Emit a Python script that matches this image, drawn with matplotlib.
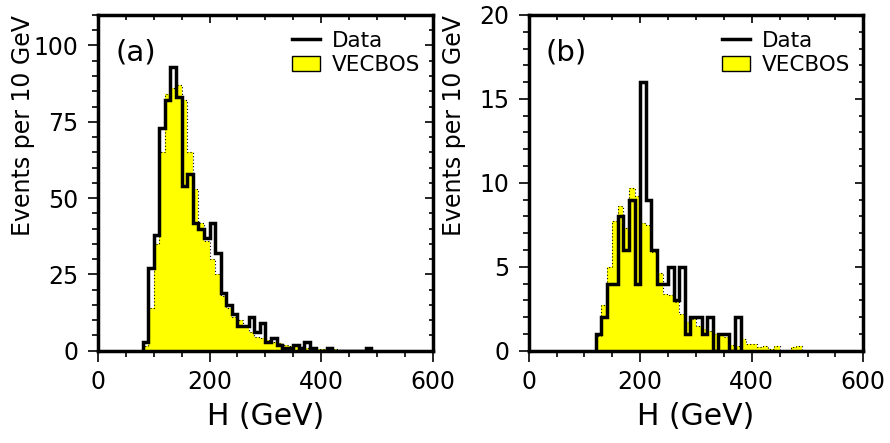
import numpy as np
import matplotlib
matplotlib.use("Agg")
import matplotlib.pyplot as plt
from matplotlib.lines import Line2D
from matplotlib.patches import Patch
from matplotlib.ticker import MultipleLocator

# events per 10 GeV bin, first bin starts at first_*
first_data_a = 80
data_a = [3, 27, 38, 73, 82, 93, 83, 54, 58, 42, 40, 37, 42, 32, 19, 15, 12, 8, 8, 11,
          6, 9, 3, 4, 2, 1, 1, 2, 1, 3, 1, 0, 0, 1, 0, 0, 0, 0, 0, 0, 1]
first_mc_a = 80
mc_a = [1.5, 14, 35, 65, 84, 86, 87, 82, 65, 53, 42, 36, 30, 25, 18, 14, 11, 10, 8, 6,
        4.5, 4, 3.5, 3, 2.5, 2, 1.6, 1.4, 1.1, 1.0, 0.8, 0.6, 0.5, 0.45, 0.4, 0.3, 0.3,
        0.25, 0.2, 0.2, 0.2, 0.1]

first_data_b = 120
data_b = [1, 2, 4, 4, 8, 6, 9, 4, 16, 9, 6, 4, 4, 5, 3, 5, 1, 2, 2, 1, 2, 0, 1, 1, 0, 2]
first_mc_b = 120
mc_b = [0.9, 2.7, 5.0, 7.7, 8.6, 7.3, 9.7, 9.2, 7.6, 7.5, 5.9, 4.6, 3.4, 3.3, 2.9, 2.2,
        1.7, 1.9, 1.5, 1.3, 1.2, 1.0, 0.95, 0.8, 0.35, 0.25, 0.68, 0.4, 0.4, 0.2, 0.3,
        0.1, 0.3, 0.05, 0.05, 0.2, 0.3, 0.05]

xlabel = "H (GeV)"
ylabel = "Events per 10 GeV"
legend_labels = ["Data", "VECBOS"]


def edges(first, vals):
    return first + 10 * np.arange(len(vals) + 1)


def panel(ax, first_mc, mc, first_d, d, ymax, ymaj, ymin_step, tag):
    ax.stairs(mc, edges(first_mc, mc), fill=True, facecolor="#ffff00", edgecolor="none")
    ax.stairs(mc, edges(first_mc, mc), color="k", lw=0.8, ls=(0, (1, 2)))
    ax.stairs(d, edges(first_d, d), color="k", lw=2.5, baseline=0)

    ax.set_xlim(0, 600)
    ax.set_ylim(0, ymax)
    for s in ax.spines.values():
        s.set_linewidth(2.5)

    ax.xaxis.set_major_locator(MultipleLocator(200))
    ax.xaxis.set_minor_locator(MultipleLocator(50))
    ax.yaxis.set_major_locator(MultipleLocator(ymaj))
    ax.yaxis.set_minor_locator(MultipleLocator(ymin_step))
    ax.tick_params(axis="x", which="major", direction="out", length=8, width=1.2,
                   labelsize=17, pad=6)
    ax.tick_params(axis="x", which="minor", direction="out", length=4.5, width=1.2)
    ax.tick_params(axis="y", which="major", direction="out", length=7, width=1.2,
                   labelsize=17, pad=7)
    ax.tick_params(axis="y", which="minor", direction="out", length=4, width=1.2)

    # inward ticks on top and right
    top = ax.secondary_xaxis("top")
    top.xaxis.set_major_locator(MultipleLocator(200))
    top.xaxis.set_minor_locator(MultipleLocator(50))
    top.tick_params(which="major", direction="in", length=6, width=1.2, labeltop=False)
    top.tick_params(which="minor", direction="in", length=3.5, width=1.2)
    top.spines["top"].set_visible(False)
    right = ax.secondary_yaxis("right")
    right.yaxis.set_major_locator(MultipleLocator(ymaj))
    right.yaxis.set_minor_locator(MultipleLocator(ymin_step))
    right.tick_params(which="major", direction="in", length=6, width=1.2, labelright=False)
    right.tick_params(which="minor", direction="in", length=3, width=1.2)
    right.spines["right"].set_visible(False)

    ax.set_xlabel(xlabel, fontsize=21.5, labelpad=6)

    handles = [Line2D([], [], color="k", lw=2.5),
               Patch(facecolor="#ffff00", edgecolor="k", lw=1)]
    ax.legend(handles, legend_labels, loc="upper right", bbox_to_anchor=(0.962, 0.953),
              frameon=False, fontsize=15.5, handlelength=1.3, handleheight=0.75,
              handletextpad=0.55, labelspacing=0.2, borderpad=0, borderaxespad=0)
    ax.text(0.113, 0.887, tag, transform=ax.transAxes, fontsize=21, ha="center", va="center")


fig = plt.figure(figsize=(8.9, 4.43), dpi=100)
ax_a = fig.add_axes([0.110, 0.2084, 0.3764, 0.7578])
ax_b = fig.add_axes([0.594, 0.2084, 0.3760, 0.7578])

panel(ax_a, first_mc_a, mc_a, first_data_a, data_a, 110, 25, 5, "(a)")
panel(ax_b, first_mc_b, mc_b, first_data_b, data_b, 20, 5, 1, "(b)")

fig.text(23 / 890, 1 - 15 / 443, ylabel, rotation=90, ha="center", va="top", fontsize=17)
fig.text(454 / 890, 1 - 15 / 443, ylabel, rotation=90, ha="center", va="top", fontsize=17)

fig.savefig("out.png", dpi=100)
